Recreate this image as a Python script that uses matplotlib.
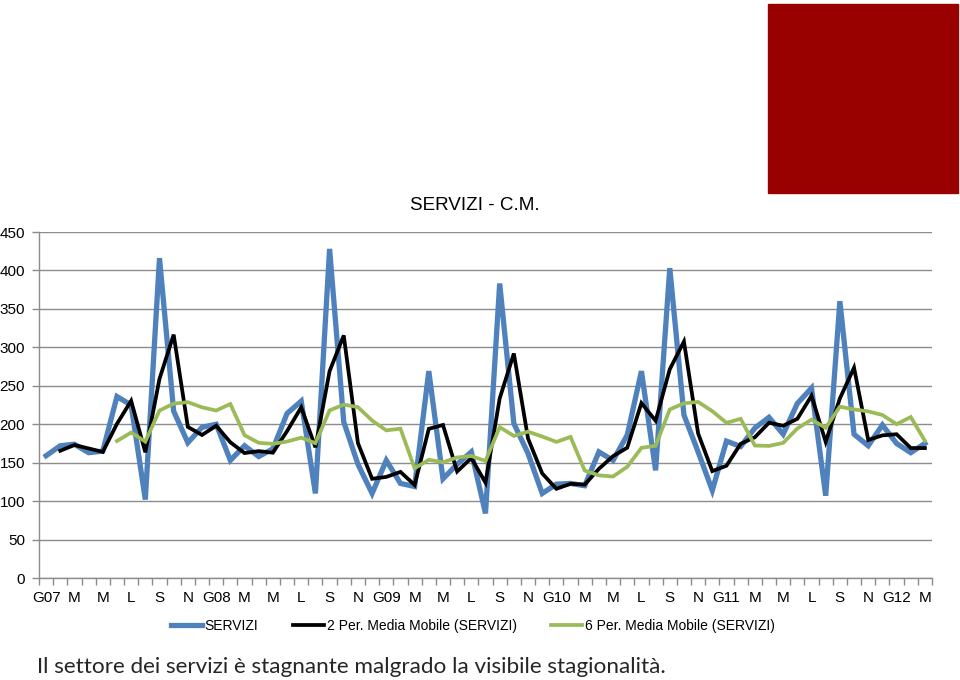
import matplotlib
matplotlib.use("Agg")
import matplotlib.pyplot as plt
from matplotlib.patches import Rectangle
import numpy as np

# monthly values, Jan 2007 - Mar 2012
servizi = [159, 172, 174, 163, 165, 236, 225, 102, 416, 217, 176,
           196, 200, 153, 172, 158, 168, 214, 230, 110, 428,
           203, 148, 110, 153, 123, 119, 269, 129, 148, 164,
           84, 383, 201, 162, 110, 122, 123, 120, 164, 153, 186,
           269, 140, 403, 212, 164, 114, 178, 171, 195, 209, 187,
           227, 247, 107, 360, 187, 172, 199, 175, 163, 175]

# 2-period moving average (first month empty)
media_2 = [None, 165.5, 173, 168.5, 164, 200.5, 230.5, 163.5, 259, 316.5, 196.5,
           186, 198, 176.5, 162.5, 165, 163, 191, 222, 170, 269,
           315.5, 175.5, 129, 131.5, 138, 121, 194, 199, 138.5, 156,
           124, 233.5, 292, 181.5, 136, 116, 122.5, 121.5, 142, 158.5, 169.5,
           227.5, 204.5, 271.5, 307.5, 188, 139, 146, 174.5, 183, 202, 198,
           207, 237, 177, 233.5, 273.5, 179.5, 185.5, 187, 169, 169]

# 6-period moving average (first five months empty)
media_6 = [None, None, None, None, None, 178.2, 189.2, 177.5, 217.8, 226.8, 228.7,
           222, 217.8, 226.3, 185.7, 175.8, 174.5, 177.5, 182.5, 175.3, 218,
           225.5, 222.2, 204.8, 192, 194.2, 142.7, 153.7, 150.5, 156.8, 158.7,
           152.2, 196.2, 184.8, 190.3, 184, 177, 183.5, 139.7, 133.5, 132, 144.7,
           169.2, 172, 219.2, 227.2, 229, 217, 201.8, 207, 172.3, 171.8, 175.7,
           194.5, 206, 195.3, 222.8, 219.2, 216.7, 212, 200, 209.3, 178.5]

mesi = ["G07", "M", "M", "L", "S", "N",
        "G08", "M", "M", "L", "S", "N",
        "G09", "M", "M", "L", "S", "N",
        "G10", "M", "M", "L", "S", "N",
        "G11", "M", "M", "L", "S", "N",
        "G12", "M"]

plt.rcParams["font.family"] = ["Liberation Sans", "DejaVu Sans"]

fig = plt.figure(figsize=(9.6, 6.8), dpi=100)
ax = fig.add_axes([39 / 960, 1 - 578 / 680, (932 - 39) / 960, (578 - 232) / 680])

x = np.arange(len(servizi))
m2 = np.array(media_2, dtype=float)
m6 = np.array(media_6, dtype=float)

ax.plot(x, servizi, color="#4F81BD", lw=3.8, solid_joinstyle="miter", zorder=3,
        label="SERVIZI")
ax.plot(x, m2, color="black", lw=2.7, solid_joinstyle="miter", zorder=4,
        label="2 Per. Media Mobile (SERVIZI)")
ax.plot(x, m6, color="#9BBB59", lw=2.7, solid_joinstyle="miter", zorder=5,
        label="6 Per. Media Mobile (SERVIZI)")

ax.set_xlim(-0.5, len(servizi) - 0.5)
ax.set_ylim(0, 450)
ax.set_yticks(np.arange(0, 451, 50))
ax.yaxis.grid(True, color="#8C8C8C", lw=1)
ax.set_axisbelow(True)

ax.set_xticks(np.arange(0, len(servizi), 2))
ax.set_xticklabels(mesi)
ax.set_xticks(np.arange(-0.5, len(servizi), 1), minor=True)
ax.tick_params(axis="x", which="major", length=0, pad=9, labelsize=11)
ax.tick_params(axis="x", which="minor", length=5, width=1, color="#8C8C8C")
ax.tick_params(axis="y", length=5, width=1, color="#8C8C8C", pad=5, labelsize=11)

for side in ["top", "right"]:
    ax.spines[side].set_visible(False)
for side in ["left", "bottom"]:
    ax.spines[side].set_color("#8C8C8C")
    ax.spines[side].set_linewidth(1)

fig.text(475 / 960, 1 - 205 / 680, "SERVIZI - C.M.", ha="center", va="center",
         fontsize=13.6)

fig.legend(loc="center", bbox_to_anchor=(473 / 960, 1 - 626 / 680), ncol=3,
           frameon=False, fontsize=10, handlelength=2.2, handletextpad=0.2,
           columnspacing=2.5)

fig.patches.append(Rectangle((768 / 960, 1 - 193 / 680), 190 / 960, 189 / 680,
                             transform=fig.transFigure, color="#990000"))

fig.text(37 / 960, 1 - 667 / 680,
         "Il settore dei servizi è stagnante malgrado la visibile stagionalità.",
         ha="left", va="center", fontsize=16.2, color="#262626",
         family=["Lato", "DejaVu Sans"])

fig.savefig("out.png", dpi=100)
